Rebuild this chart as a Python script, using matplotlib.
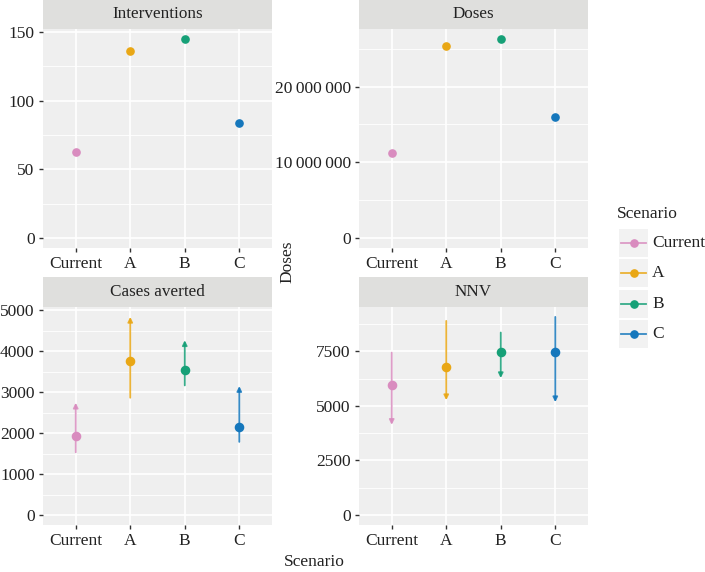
import numpy as np
import matplotlib
matplotlib.use("Agg")
import matplotlib.pyplot as plt
from matplotlib.patches import Rectangle
from matplotlib.ticker import FuncFormatter

scenarios = ["Current", "A", "B", "C"]
colors = ["#D98CBF", "#E9A715", "#16A077", "#1577BC"]

interventions = [63, 136, 145, 84]
doses = [11_300_000, 25_350_000, 26_300_000, 16_050_000]

cases = [1926, 3765, 3544, 2164]
cases_lo = [1534, 2868, 3169, 1789]
cases_hi = [2745, 4843, 4272, 3152]

nnv = [5951, 6777, 7466, 7452]
nnv_lo = [4132, 5262, 6272, 5170]
nnv_hi = [7438, 8889, 8357, 9072]

W, H = 705, 572
plt.rcParams["font.family"] = ["Liberation Serif", "DejaVu Serif"]
plt.rcParams["font.size"] = 11

fig = plt.figure(figsize=(W / 100, H / 100), dpi=100)
fig.patch.set_facecolor("white")

PANEL_BG = "#EFEFEF"
STRIP_BG = "#DFDFDD"
TXT = "#222222"


def px_axes(l, t, r, b):
    return fig.add_axes([l / W, 1 - b / H, (r - l) / W, (b - t) / H])


def panel(l, t, r, b, strip_h, title, ticks, hi, fmt=None):
    st = px_axes(l, t - strip_h, r, t)
    st.set_facecolor(STRIP_BG)
    st.set_xticks([])
    st.set_yticks([])
    for s in st.spines.values():
        s.set_visible(False)
    st.text(0.5, 0.5, title, ha="center", va="center", fontsize=12.3,
            color=TXT, transform=st.transAxes)

    ax = px_axes(l, t, r, b)
    ax.set_facecolor(PANEL_BG)
    for s in ax.spines.values():
        s.set_visible(False)
    x = np.arange(1, len(scenarios) + 1)
    ax.set_xlim(0.4, len(scenarios) + 0.6)
    pad = 0.05 * hi
    ax.set_ylim(-pad, hi + pad)
    ax.set_xticks(x)
    ax.set_xticklabels(scenarios, fontsize=12.5, color=TXT)
    ax.set_yticks(ticks)
    if fmt is not None:
        ax.yaxis.set_major_formatter(FuncFormatter(fmt))
    ax.tick_params(axis="both", length=3, width=1, color="#333333",
                   labelsize=12.5, labelcolor=TXT, pad=3)
    step = ticks[1] - ticks[0]
    minors = [v + step / 2 for v in [ticks[0] - step] + list(ticks)]
    for m in minors:
        ax.axhline(m, color="white", lw=0.6, zorder=0.5)
    for v in ticks:
        ax.axhline(v, color="white", lw=1.2, zorder=0.6)
    for xi in x:
        ax.axvline(xi, color="white", lw=1.2, zorder=0.6)
    return ax, x


def thin_space(v, pos):
    return f"{int(v):,}".replace(",", "\u2009")


# Interventions
ax, x = panel(43, 29, 272, 248, 29, "Interventions", [0, 50, 100, 150],
              max(interventions))
for xi, v, c in zip(x, interventions, colors):
    ax.plot(xi, v, "o", color=c, ms=5.2, zorder=3)

# Doses
ax, x = panel(359, 29, 588, 248, 29, "Doses", [0, 10_000_000, 20_000_000],
              max(doses), thin_space)
for xi, v, c in zip(x, doses, colors):
    ax.plot(xi, v, "o", color=c, ms=5.2, zorder=3)

# Cases averted
ax, x = panel(43, 307, 272, 525, 30, "Cases averted",
              [0, 1000, 2000, 3000, 4000, 5000], max(cases_hi))
for xi, v, lo, hi_, c in zip(x, cases, cases_lo, cases_hi, colors):
    ax.annotate("", xy=(xi, hi_), xytext=(xi, lo),
                arrowprops=dict(arrowstyle="-|>", color=c, lw=1.3,
                                mutation_scale=7, shrinkA=0, shrinkB=0,
                                alpha=0.85), zorder=2)
    ax.plot(xi, v, "o", color=c, ms=5.9, zorder=3)

# NNV
ax, x = panel(359, 307, 588, 525, 30, "NNV", [0, 2500, 5000, 7500],
              max(nnv_hi))
for xi, v, lo, hi_, c in zip(x, nnv, nnv_lo, nnv_hi, colors):
    ax.annotate("", xy=(xi, lo), xytext=(xi, hi_),
                arrowprops=dict(arrowstyle="-|>", color=c, lw=1.3,
                                mutation_scale=7, shrinkA=0, shrinkB=0,
                                alpha=0.85), zorder=2)
    ax.plot(xi, v, "o", color=c, ms=5.9, zorder=3)

# axis titles
fig.text(287 / W, 1 - 262 / H, "Doses", rotation=90, ha="center",
         va="center", fontsize=12.5, color=TXT)
fig.text(314 / W, 1 - 562 / H, "Scenario", ha="center", va="center",
         fontsize=12.5, color=TXT)

# legend
fig.text(617 / W, 1 - 214 / H, "Scenario", ha="left", va="center",
         fontsize=12.5, color=TXT)
lg = fig.add_axes([0, 0, 1, 1])
lg.set_xlim(0, W)
lg.set_ylim(H, 0)
lg.axis("off")
for i, (name, c) in enumerate(zip(scenarios, colors)):
    yc = 243 + i * 30.3
    lg.add_patch(Rectangle((619, yc - 14), 29, 28, facecolor="#F2F2F2",
                           edgecolor="none"))
    lg.plot([621, 646], [yc, yc], color=c, lw=1.3, alpha=0.85)
    lg.plot(633.5, yc, "o", color=c, ms=5.2)
    lg.text(652, yc, name, ha="left", va="center", fontsize=12.5, color=TXT)

fig.savefig("out.png", dpi=100)
